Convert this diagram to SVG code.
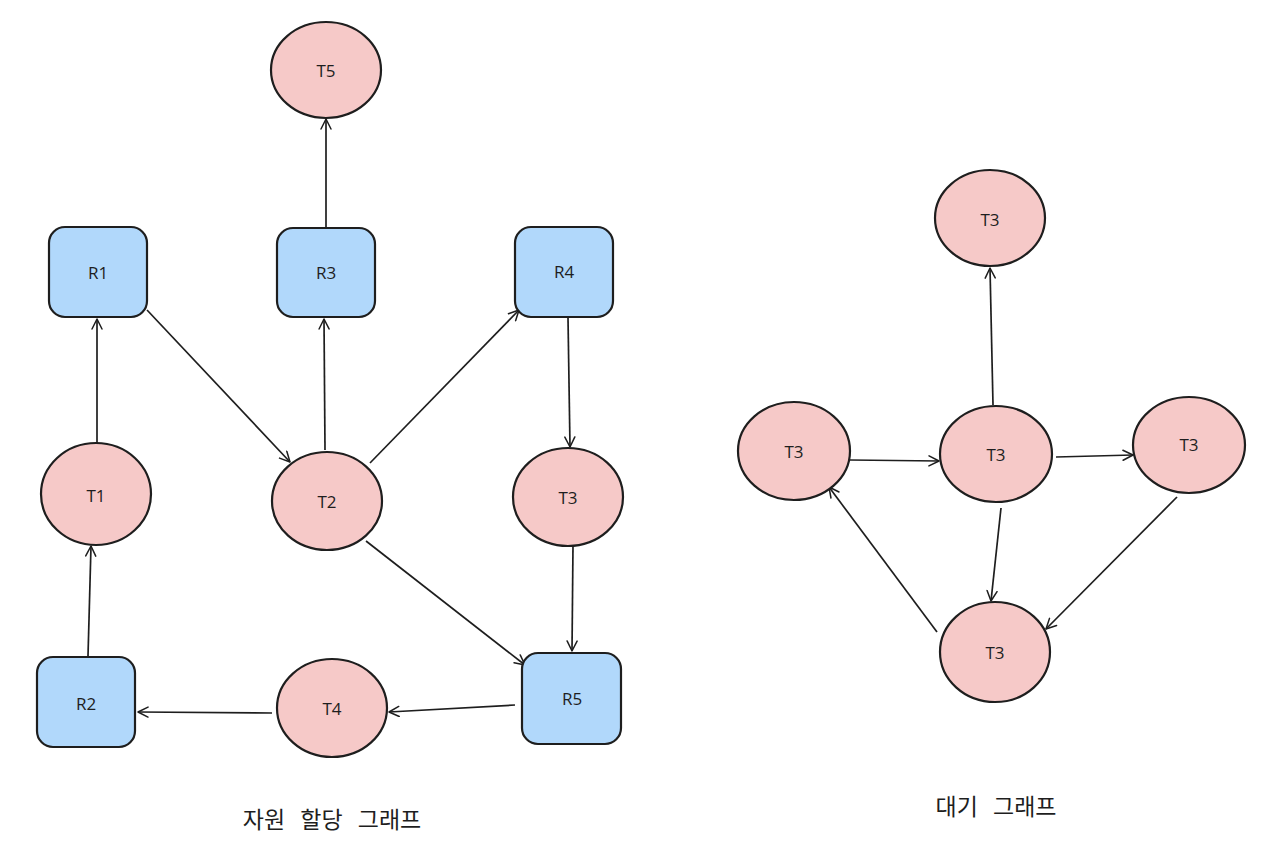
<svg xmlns="http://www.w3.org/2000/svg" width="1280" height="854" viewBox="0 0 1280 854">
<defs>
<marker id="arr" viewBox="0 0 12 12" refX="11" refY="6" markerWidth="12" markerHeight="12" markerUnits="userSpaceOnUse" orient="auto">
<path d="M1,1 L11,6 L1,11" fill="none" stroke="#1e1e1e" stroke-width="1.5" stroke-linecap="round" stroke-linejoin="round"/>
</marker>
<style>
.t{fill:#f6c9c8;stroke:#1e1e1e;stroke-width:2.2}
.r{fill:#b1d8fb;stroke:#1e1e1e;stroke-width:2.2}
.lbl{font-family:"Open Sans","Liberation Sans",sans-serif;font-size:17px;fill:#1e1e1e;text-anchor:middle;dominant-baseline:central}
.cap{font-family:"Noto Sans CJK KR","Noto Sans",sans-serif;font-size:23px;fill:#1e1e1e;text-anchor:middle;word-spacing:10px}
.c{stroke:#1e1e1e;stroke-width:1.7;fill:none;marker-end:url(#arr)}
</style>
</defs>
<rect width="1280" height="854" fill="#ffffff"/>
<g id="connectors">
<line class="c" x1="97" y1="446" x2="97" y2="319"/>
<line class="c" x1="147" y1="310" x2="290" y2="462"/>
<line class="c" x1="325" y1="450" x2="324" y2="319"/>
<line class="c" x1="326" y1="228" x2="326" y2="119"/>
<line class="c" x1="370" y1="463" x2="519" y2="310"/>
<line class="c" x1="568" y1="318" x2="570" y2="447"/>
<line class="c" x1="573" y1="545" x2="572" y2="651"/>
<line class="c" x1="366" y1="541" x2="525" y2="665"/>
<line class="c" x1="515" y1="705" x2="389" y2="712"/>
<line class="c" x1="272" y1="713" x2="138" y2="712"/>
<line class="c" x1="88" y1="656" x2="91" y2="546"/>
<line class="c" x1="993" y1="405" x2="990" y2="268"/>
<line class="c" x1="850" y1="460" x2="939" y2="461"/>
<line class="c" x1="1056" y1="457" x2="1133" y2="455"/>
<line class="c" x1="1001" y1="508" x2="991" y2="601"/>
<line class="c" x1="1177" y1="497" x2="1046" y2="629"/>
<line class="c" x1="937" y1="632" x2="829" y2="487"/>
</g>
<g id="T5"><ellipse class="t" cx="326" cy="70" rx="55" ry="48"/><text class="lbl" x="326" y="70">T5</text></g>
<g id="R1"><rect class="r" x="49" y="227" width="98" height="90" rx="16"/><text class="lbl" x="98" y="272">R1</text></g>
<g id="R3"><rect class="r" x="277" y="228" width="98" height="89" rx="16"/><text class="lbl" x="326" y="272">R3</text></g>
<g id="R4"><rect class="r" x="515" y="227" width="98" height="90" rx="16"/><text class="lbl" x="564" y="271">R4</text></g>
<g id="T1"><ellipse class="t" cx="96" cy="494" rx="55" ry="51"/><text class="lbl" x="96" y="495">T1</text></g>
<g id="T2"><ellipse class="t" cx="327" cy="501" rx="55" ry="49"/><text class="lbl" x="327" y="501">T2</text></g>
<g id="T3"><ellipse class="t" cx="568" cy="497" rx="55" ry="49"/><text class="lbl" x="568" y="497">T3</text></g>
<g id="R2"><rect class="r" x="37" y="657" width="98" height="90" rx="16"/><text class="lbl" x="86" y="703">R2</text></g>
<g id="T4"><ellipse class="t" cx="332" cy="708" rx="55" ry="49"/><text class="lbl" x="332" y="708">T4</text></g>
<g id="R5"><rect class="r" x="522" y="653" width="99" height="91" rx="16"/><text class="lbl" x="572" y="698">R5</text></g>
<g id="W1"><ellipse class="t" cx="990" cy="218" rx="55" ry="48"/><text class="lbl" x="990" y="219">T3</text></g>
<g id="W2"><ellipse class="t" cx="794" cy="451" rx="56" ry="49"/><text class="lbl" x="794" y="451">T3</text></g>
<g id="W3"><ellipse class="t" cx="996" cy="454" rx="56" ry="48"/><text class="lbl" x="996" y="454">T3</text></g>
<g id="W4"><ellipse class="t" cx="1189" cy="445" rx="56" ry="48"/><text class="lbl" x="1189" y="444">T3</text></g>
<g id="W5"><ellipse class="t" cx="995" cy="652" rx="55" ry="50"/><text class="lbl" x="995" y="652">T3</text></g>
<g id="captions">
<text class="cap" x="332" y="828">자원 할당 그래프</text>
<text class="cap" x="996" y="815">대기 그래프</text>
</g>
</svg>
